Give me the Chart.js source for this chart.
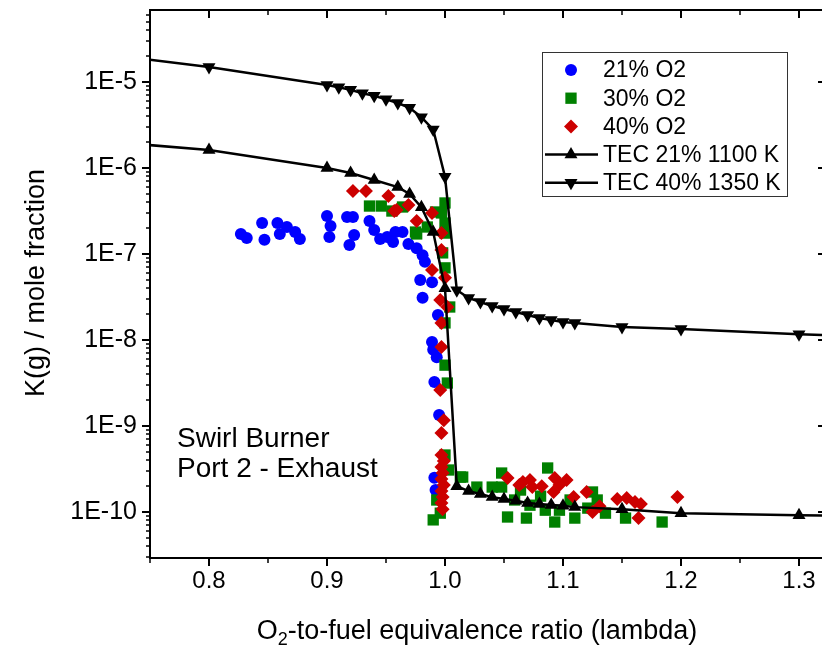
<!DOCTYPE html>
<html>
<head>
<meta charset="utf-8">
<script src="https://cdn.jsdelivr.net/npm/chart.js@4.4.1/dist/chart.umd.min.js"></script>
<style>
  html, body { margin: 0; padding: 0; background: #fff; overflow: hidden; }
</style>
</head>
<body>
<canvas id="chart" width="822" height="647"></canvas>
<script>
// axis ticks
const xTicks = [0.8, 0.9, 1.0, 1.1, 1.2, 1.3];
const yTicks = [1e-10, 1e-9, 1e-8, 1e-7, 1e-6, 1e-5];

// 21% O2 measurements
const o2_21_x = [0.827, 0.832, 0.845, 0.847, 0.858, 0.860, 0.866, 0.873, 0.877, 0.900, 0.903, 0.902,
  0.917, 0.922, 0.923, 0.919, 0.936, 0.940, 0.945, 0.951, 0.956, 0.958, 0.964, 0.969, 0.976, 0.981,
  0.983, 0.979, 0.989, 0.981, 0.994, 0.989, 0.990, 0.993, 0.991, 0.995, 0.991, 0.992];
const o2_21_y = [1.71e-7, 1.53e-7, 2.29e-7, 1.46e-7, 2.29e-7, 1.71e-7, 2.06e-7, 1.80e-7, 1.49e-7, 2.77e-7, 2.12e-7, 1.58e-7,
  2.69e-7, 2.69e-7, 1.66e-7, 1.27e-7, 2.42e-7, 1.90e-7, 1.49e-7, 1.58e-7, 1.38e-7, 1.80e-7, 1.80e-7, 1.31e-7, 1.17e-7, 9.7e-8,
  8.1e-8, 5.0e-8, 4.7e-8, 3.1e-8, 1.95e-8, 9.5e-9, 7.7e-9, 6.3e-9, 3.25e-9, 1.34e-9, 2.5e-10, 1.8e-10];

// 30% O2 measurements
const o2_30_x = [0.936, 0.946, 0.955, 0.964, 0.975, 0.976, 0.985, 0.992, 0.997, 1.000, 1.000, 1.000,
  0.998, 1.000, 1.004, 1.000, 1.000, 1.002, 1.000, 1.003, 1.013, 0.996, 0.990, 0.993,
  1.015, 1.027, 1.040, 1.048, 1.048, 1.053, 1.059, 1.069, 1.072, 1.085, 1.087, 1.093, 1.097, 1.106,
  1.110, 1.121, 1.125, 1.129, 1.136, 1.153, 1.184, 1.064, 1.081];
const o2_30_y = [3.61e-7, 3.61e-7, 3.16e-7, 3.52e-7, 1.80e-7, 1.71e-7, 2.06e-7, 3.08e-7, 3.0e-7, 3.92e-7, 2.29e-7, 1.75e-7,
  1.03e-7, 6.9e-8, 2.42e-8, 1.58e-8, 5.1e-9, 3.16e-9, 4.6e-10, 3.08e-10, 2.55e-10, 9.7e-11, 8.1e-11, 1.38e-10,
  2.55e-10, 1.95e-10, 1.95e-10, 2.84e-10, 1.95e-10, 8.75e-11, 1.38e-10, 8.5e-11, 1.2e-10, 1.05e-10, 3.25e-10, 7.65e-11, 1.05e-10, 1.38e-10,
  8.5e-11, 1.11e-10, 1.71e-10, 1.38e-10, 9.7e-11, 8.5e-11, 7.65e-11, 1.8e-10, 1.53e-10];

// 40% O2 measurements
const o2_40_x = [0.922, 0.933, 0.952, 0.957, 0.959, 0.969, 0.976, 0.989, 0.997, 0.997, 0.989, 1.000,
  0.996, 1.002, 0.997, 0.997, 0.996, 0.999, 0.997, 0.997, 0.999, 0.997, 0.998, 0.997, 0.999,
  0.997, 0.998, 0.997, 0.998, 1.053, 1.063, 1.066, 1.072, 1.074, 1.082, 1.093, 1.092, 1.103, 1.097,
  1.109, 1.120, 1.125, 1.131, 1.146, 1.154, 1.161, 1.166, 1.164, 1.197];
const o2_40_y = [5.4e-7, 5.4e-7, 4.72e-7, 3.16e-7, 3.25e-7, 3.72e-7, 2.42e-7, 3.0e-7, 1.75e-7, 1.11e-7, 6.5e-8, 5.3e-8,
  2.92e-8, 2.42e-8, 1.58e-8, 8.3e-9, 2.62e-9, 1.17e-9, 8.3e-10, 4.6e-10, 3.92e-10, 3.34e-10, 2.84e-10, 2.42e-10, 2.06e-10,
  1.75e-10, 1.49e-10, 1.27e-10, 1.08e-10, 2.48e-10, 2.06e-10, 2.23e-10, 2.36e-10, 1.95e-10, 2.0e-10, 2.48e-10, 1.71e-10, 2.36e-10, 2.06e-10,
  1.49e-10, 1.71e-10, 1.0e-10, 1.17e-10, 1.42e-10, 1.46e-10, 1.31e-10, 1.24e-10, 8.5e-11, 1.49e-10];

// thermodynamic equilibrium calculations
const tec21_x = [0.70, 0.80, 0.90, 0.92, 0.94, 0.96, 0.97, 0.98, 0.99, 1.00, 1.01, 1.02, 1.03, 1.04,
  1.05, 1.06, 1.07, 1.08, 1.09, 1.10, 1.11, 1.15, 1.20, 1.30, 1.40];
const tec21_y = [2.1e-6, 1.62e-6, 1.0e-6, 8.75e-7, 7.25e-7, 6.0e-7, 5.0e-7, 3.5e-7, 1.8e-7, 4.0e-8, 2.0e-10, 1.75e-10, 1.62e-10, 1.49e-10,
  1.42e-10, 1.35e-10, 1.27e-10, 1.24e-10, 1.21e-10, 1.18e-10, 1.14e-10, 1.08e-10, 9.7e-11, 9.2e-11, 8.6e-11];
const tec40_x = [0.70, 0.80, 0.90, 0.91, 0.92, 0.93, 0.94, 0.95, 0.96, 0.97, 0.98, 0.99, 1.00, 1.01, 1.02,
  1.03, 1.04, 1.05, 1.06, 1.07, 1.08, 1.09, 1.10, 1.11, 1.15, 1.20, 1.30, 1.40];
const tec40_y = [2.2e-5, 1.49e-5, 9.2e-6, 8.7e-6, 8.1e-6, 7.4e-6, 6.9e-6, 6.3e-6, 5.7e-6, 5.0e-6, 3.9e-6, 2.8e-6, 7.9e-7, 3.8e-8, 3.08e-8,
  2.77e-8, 2.48e-8, 2.29e-8, 2.12e-8, 1.95e-8, 1.80e-8, 1.71e-8, 1.62e-8, 1.58e-8, 1.42e-8, 1.34e-8, 1.17e-8, 1.03e-8];

const FONT = "'Liberation Sans', Arial, sans-serif";
// the right frame of the plot sits just beyond the visible edge
const X_MIN = 0.75;
const X_FRAME_MAX = 1.3229;

function pts(xs, ys) {
  return xs.map((x, i) => ({ x: x, y: ys[i] }));
}

// draw a marker the same way in the legend
function drawMarker(ctx, ds, x, y) {
  const r = ds.pointRadius;
  ctx.fillStyle = ds.pointBackgroundColor;
  ctx.beginPath();
  if (ds.pointStyle === "circle") {
    ctx.arc(x, y, r, 0, Math.PI * 2);
  } else if (ds.pointStyle === "rect") {
    const s = r * Math.SQRT1_2;
    ctx.rect(x - s, y - s, 2 * s, 2 * s);
  } else if (ds.pointStyle === "rectRot") {
    ctx.moveTo(x - r, y);
    ctx.lineTo(x, y - r);
    ctx.lineTo(x + r, y);
    ctx.lineTo(x, y + r);
  } else if (ds.pointStyle === "triangle") {
    const d = ds.pointRotation === 180 ? -1 : 1;
    const h = r * Math.sqrt(3) / 2;
    ctx.moveTo(x, y - d * r);
    ctx.lineTo(x + h, y + d * r / 2);
    ctx.lineTo(x - h, y + d * r / 2);
  }
  ctx.closePath();
  ctx.fill();
}

const framePlugin = {
  id: "frame",
  afterDraw(chart) {
    const { ctx, chartArea: a } = chart;
    const xs = chart.scales.x;
    const ys = chart.scales.y;
    const right = xs.getPixelForValue(X_FRAME_MAX);
    ctx.save();
    ctx.strokeStyle = "#000";
    ctx.lineWidth = 2;
    ctx.strokeRect(a.left, a.top, right - a.left, a.bottom - a.top);

    // x ticks every 0.05
    for (let i = 0; i < 20; i++) {
      const v = X_MIN + i * 0.05;
      if (v > X_FRAME_MAX) break;
      const px = Math.round(xs.getPixelForValue(v));
      const major = i % 2 === 1;
      const len = major ? 8 : 5;
      ctx.lineWidth = major ? 2 : 1.5;
      ctx.beginPath();
      ctx.moveTo(px, a.bottom);
      ctx.lineTo(px, a.bottom + len);
      ctx.moveTo(px, a.top);
      ctx.lineTo(px, a.top + len);
      ctx.stroke();
    }
    // log y ticks
    for (let d = -12; d <= -4; d++) {
      for (let m = 1; m <= 9; m++) {
        const v = m * Math.pow(10, d);
        if (v < ys.min || v > ys.max) continue;
        const py = Math.round(ys.getPixelForValue(v));
        const major = m === 1;
        const len = major ? 8 : 4;
        ctx.lineWidth = major ? 2 : 1.5;
        ctx.beginPath();
        ctx.moveTo(a.left, py);
        ctx.lineTo(a.left - len, py);
        ctx.moveTo(right, py);
        ctx.lineTo(right - len, py);
        ctx.stroke();
      }
    }

    // legend
    const lx = 542, ly = 52, lw = 245, lh = 144;
    ctx.fillStyle = "#fff";
    ctx.fillRect(lx, ly, lw, lh);
    ctx.lineWidth = 1;
    ctx.strokeStyle = "#333";
    ctx.strokeRect(lx + 0.5, ly + 0.5, lw, lh);
    ctx.font = "23px " + FONT;
    ctx.textBaseline = "middle";
    ctx.textAlign = "left";
    chart.data.datasets.forEach((ds, row) => {
      const cy = ly + 18 + row * 28.2;
      if (ds.showLine) {
        ctx.strokeStyle = ds.borderColor;
        ctx.lineWidth = ds.borderWidth;
        ctx.beginPath();
        ctx.moveTo(545, cy);
        ctx.lineTo(598, cy);
        ctx.stroke();
      }
      drawMarker(ctx, ds, 571, cy);
      ctx.fillStyle = "#000";
      ctx.fillText(ds.label, 603, cy + 1);
    });

    // annotation
    ctx.font = "28px " + FONT;
    ctx.textBaseline = "alphabetic";
    ctx.fillText("Swirl Burner", 177, 447);
    ctx.fillText("Port 2 - Exhaust", 177, 477);

    // x title with subscript
    const t1 = "O", t2 = "2", t3 = "-to-fuel equivalence ratio (lambda)";
    ctx.font = "27px " + FONT;
    const w1 = ctx.measureText(t1).width;
    const w3 = ctx.measureText(t3).width;
    ctx.font = "18px " + FONT;
    const w2 = ctx.measureText(t2).width;
    const tx = 477 - (w1 + w2 + w3) / 2;
    const ty = 639;
    ctx.font = "27px " + FONT;
    ctx.fillText(t1, tx, ty);
    ctx.font = "18px " + FONT;
    ctx.fillText(t2, tx + w1, ty + 6);
    ctx.font = "27px " + FONT;
    ctx.fillText(t3, tx + w1 + w2, ty);

    // y title
    ctx.translate(37, 283);
    ctx.rotate(-Math.PI / 2);
    ctx.textAlign = "center";
    ctx.textBaseline = "middle";
    ctx.fillText("K(g) / mole fraction", 0, 0);
    ctx.restore();
  }
};

new Chart(document.getElementById("chart"), {
  type: "scatter",
  data: {
    datasets: [
      {
        label: "21% O2",
        data: pts(o2_21_x, o2_21_y),
        pointStyle: "circle",
        pointRadius: 6,
        pointBackgroundColor: "#0000ff",
        pointBorderWidth: 0,
        showLine: false,
        order: 5,
      },
      {
        label: "30% O2",
        data: pts(o2_30_x, o2_30_y),
        pointStyle: "rect",
        pointRadius: 8,
        pointBackgroundColor: "#008000",
        pointBorderWidth: 0,
        showLine: false,
        order: 4,
      },
      {
        label: "40% O2",
        data: pts(o2_40_x, o2_40_y),
        pointStyle: "rectRot",
        pointRadius: 7,
        pointBackgroundColor: "#cc0000",
        pointBorderWidth: 0,
        showLine: false,
        order: 3,
      },
      {
        label: "TEC 21% 1100 K",
        data: pts(tec21_x, tec21_y),
        pointStyle: "triangle",
        pointRadius: 7.5,
        pointBackgroundColor: "#000",
        pointBorderWidth: 0,
        borderColor: "#000",
        borderWidth: 2.5,
        showLine: true,
        tension: 0,
        order: 2,
      },
      {
        label: "TEC 40% 1350 K",
        data: pts(tec40_x, tec40_y),
        pointStyle: "triangle",
        pointRotation: 180,
        pointRadius: 7.5,
        pointBackgroundColor: "#000",
        pointBorderWidth: 0,
        borderColor: "#000",
        borderWidth: 2.5,
        showLine: true,
        tension: 0,
        order: 1,
      },
    ],
  },
  options: {
    responsive: false,
    animation: false,
    layout: { autoPadding: false, padding: { top: 10, right: 0, left: 0, bottom: 0 } },
    plugins: {
      legend: { display: false },
      tooltip: { enabled: false },
    },
    scales: {
      x: {
        type: "linear",
        min: X_MIN,
        max: X_MIN + 672 / 1180,
        grid: { display: false, drawTicks: false },
        border: { display: false },
        afterBuildTicks: function (s) {
          s.ticks = xTicks.map((v) => ({ value: v }));
        },
        afterFit: function (s) {
          s.height = 89;
          s.paddingLeft = 0;
          s.paddingRight = 0;
        },
        ticks: {
          color: "#000",
          font: { family: FONT, size: 24 },
          padding: 9,
          maxRotation: 0,
          autoSkip: false,
          callback: function (v) {
            return v.toFixed(1);
          },
        },
      },
      y: {
        type: "logarithmic",
        min: 2.92e-11,
        max: 6.87e-5,
        grid: { display: false, drawTicks: false },
        border: { display: false },
        afterBuildTicks: function (s) {
          s.ticks = yTicks.map((v) => ({ value: v }));
        },
        afterFit: function (s) {
          s.width = 150;
          s.paddingTop = 0;
          s.paddingBottom = 0;
        },
        ticks: {
          color: "#000",
          font: { family: FONT, size: 25 },
          padding: 13,
          autoSkip: false,
          callback: function (v) {
            return "1E" + Math.round(Math.log10(v));
          },
        },
      },
    },
  },
  plugins: [framePlugin],
});
</script>
</body>
</html>
